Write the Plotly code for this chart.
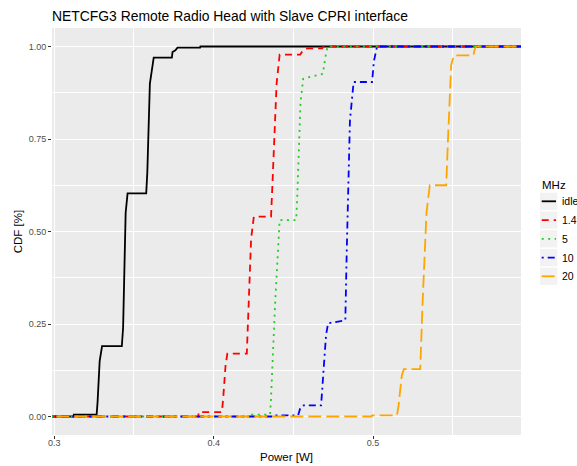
import plotly.graph_objects as go

# ---- data ----
series_names = ["idle", "1.4", "5", "10", "20"]

idle_x = [0.29, 0.3122, 0.3123, 0.3266, 0.3272, 0.3285, 0.3300, 0.3424, 0.3432, 0.3448, 0.3460,
          0.3577, 0.3584, 0.3600, 0.3624, 0.3738, 0.3742, 0.3760, 0.3773, 0.3915, 0.3917, 0.60]
idle_y = [0, 0, 0.005, 0.005, 0.04, 0.15, 0.19, 0.19, 0.24, 0.55, 0.603,
          0.603, 0.66, 0.90, 0.97, 0.97, 0.985, 0.99, 0.997, 0.997, 1.0, 1.0]

r14_x = [0.29, 0.3904, 0.3906, 0.4052, 0.4060, 0.4075, 0.4086, 0.4208, 0.4215, 0.4235, 0.4252,
         0.4360, 0.4368, 0.4395, 0.4414, 0.4543, 0.4560, 0.4588, 0.4680, 0.4690, 0.60]
r14_y = [0, 0, 0.012, 0.012, 0.05, 0.14, 0.17, 0.17, 0.25, 0.48, 0.54,
         0.54, 0.62, 0.90, 0.978, 0.978, 0.99, 0.995, 0.995, 1.0, 1.0]

r5_x = [0.29, 0.4228, 0.4230, 0.4354, 0.4360, 0.4385, 0.4414, 0.4518, 0.4525, 0.4545, 0.4562,
        0.4685, 0.4700, 0.4715, 0.60]
r5_y = [0, 0, 0.005, 0.005, 0.05, 0.30, 0.531, 0.531, 0.60, 0.85, 0.913,
        0.926, 0.97, 1.0, 1.0]

r10_x = [0.29, 0.4375, 0.4377, 0.4530, 0.4545, 0.4564, 0.4674, 0.4685, 0.4705, 0.4718, 0.4826,
         0.4835, 0.4855, 0.4878, 0.4994, 0.5005, 0.5025, 0.60]
r10_y = [0, 0, 0.003, 0.003, 0.025, 0.03, 0.03, 0.10, 0.22, 0.252, 0.26,
         0.45, 0.80, 0.904, 0.904, 0.96, 1.0, 1.0]

r20_x = [0.29, 0.4990, 0.4994, 0.5150, 0.5160, 0.5180, 0.5193, 0.5296, 0.5310, 0.5335, 0.5356,
         0.5459, 0.5470, 0.5490, 0.5507, 0.5630, 0.5636, 0.5646, 0.60]
r20_y = [0, 0, 0.003, 0.003, 0.03, 0.11, 0.128, 0.128, 0.30, 0.55, 0.625,
         0.625, 0.75, 0.95, 0.976, 0.976, 0.99, 1.0, 1.0]

x_tick_vals = [0.3, 0.4, 0.5]
x_tick_text = ["0.3", "0.4", "0.5"]
y_tick_vals = [0.0, 0.25, 0.5, 0.75, 1.0]
y_tick_text = ["0.00", "0.25", "0.50", "0.75", "1.00"]
legend_title = "MHz"

# ---- styles ----
colors = ["#000000", "#FF0000", "#22CC22", "#0000FF", "#FFA500"]
dashes = ["solid", "7px,5px", "2px,4.5px", "2px,4px,7px,4px", "13px,5px"]
xs = [idle_x, r14_x, r5_x, r10_x, r20_x]
ys = [idle_y, r14_y, r5_y, r10_y, r20_y]

fig = go.Figure()
for name, x, y, c, d in zip(series_names, xs, ys, colors, dashes):
    fig.add_trace(go.Scatter(x=x, y=y, mode="lines", name=name, showlegend=False,
                             line=dict(color=c, width=1.8, dash=d)))

FONT = "Liberation Sans, Arial, sans-serif"
W, H = 577, 466
ML, MR, MT, MB = 52, 56, 28, 31
PW, PH = W - ML - MR, H - MT - MB


def px(xpage):
    return (xpage - ML) / PW


def py(ypage):
    return (H - MB - ypage) / PH


# ---- manual legend (ggplot style) ----
shapes = []
annotations = []
annotations.append(dict(text=legend_title, xref="paper", yref="paper",
                        x=px(539.5), y=py(184.5), xanchor="left", yanchor="middle",
                        showarrow=False, font=dict(size=11.5, color="#000000")))
row0, step = 201.3, 18.75
for i, (name, c, d) in enumerate(zip(series_names, colors, dashes)):
    yc = row0 + i * step
    shapes.append(dict(type="rect", xref="paper", yref="paper",
                       x0=px(540), x1=px(557.3), y0=py(yc - 8.6), y1=py(yc + 8.6),
                       fillcolor="#F2F2F2", line=dict(width=0), layer="below"))
    shapes.append(dict(type="line", xref="paper", yref="paper",
                       x0=px(541.7), x1=px(556), y0=py(yc), y1=py(yc),
                       line=dict(color=c, width=1.8, dash=d)))
    annotations.append(dict(text=name, xref="paper", yref="paper",
                            x=px(559.5), y=py(yc), xanchor="left", yanchor="middle",
                            showarrow=False, font=dict(size=10.5, color="#000000")))

fig.update_layout(
    width=W, height=H,
    margin=dict(l=ML, r=MR, t=MT, b=MB, autoexpand=False),
    paper_bgcolor="white",
    plot_bgcolor="#EBEBEB",
    font=dict(family=FONT, color="#000000", size=11),
    title=dict(text="NETCFG3 Remote Radio Head with Slave CPRI interface",
               xref="container", x=52/W, xanchor="left",
               yref="container", y=1 - 16/H, yanchor="middle",
               font=dict(size=13.9, color="#000000")),
    showlegend=False,
    shapes=shapes,
    annotations=annotations,
    xaxis=dict(range=[0.2986, 0.5928], tickvals=x_tick_vals, ticktext=x_tick_text,
               showgrid=True, gridcolor="white", gridwidth=1.1,
               minor=dict(tickvals=[0.35, 0.45, 0.55], showgrid=True,
                          gridcolor="white", gridwidth=0.5, ticks=""),
               zeroline=False, ticks="outside", ticklen=3, tickcolor="#333333",
               ticklabelstandoff=-4,
               tickfont=dict(size=9, color="#4D4D4D"),
               title=dict(text="Power [W]", font=dict(size=11.5), standoff=6)),
    yaxis=dict(range=[-0.05, 1.05], tickvals=y_tick_vals, ticktext=y_tick_text,
               showgrid=True, gridcolor="white", gridwidth=1.1,
               minor=dict(tickvals=[0.125, 0.375, 0.625, 0.875], showgrid=True,
                          gridcolor="white", gridwidth=0.5, ticks=""),
               zeroline=False, ticks="outside", ticklen=3, tickcolor="#333333",
               tickfont=dict(size=9, color="#4D4D4D"),
               title=dict(text="CDF [%]", font=dict(size=11.5), standoff=3)),
)

fig.write_html("out.html", config={"displayModeBar": False},
               post_script="document.body.style.margin='0';"
                           "document.body.style.overflow='hidden';")
